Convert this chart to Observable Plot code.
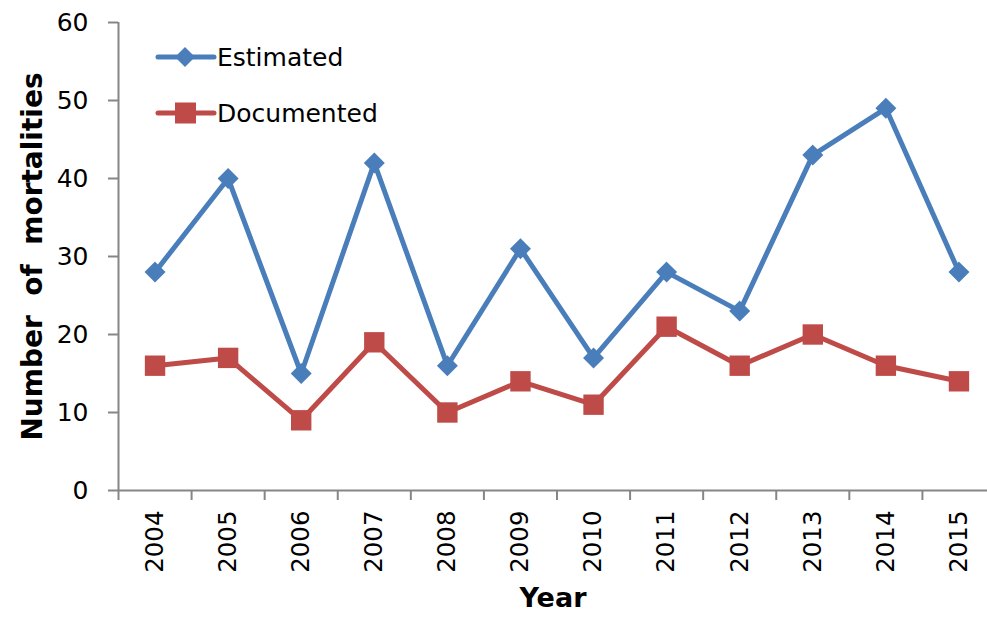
<!DOCTYPE html>
<html>
<head>
<meta charset="utf-8">
<script src="https://cdn.jsdelivr.net/npm/d3@7"></script>
<script src="https://cdn.jsdelivr.net/npm/@observablehq/plot@0.6"></script>
<style>
  html, body { margin: 0; padding: 0; background: #fff; overflow: hidden; }
  #wrap { position: relative; width: 987px; height: 621px; font-family: "DejaVu Sans", sans-serif; }
  #legend { position: absolute; left: 0; top: 0; pointer-events: none; }
</style>
</head>
<body>
<div id="wrap"></div>
<script>
const years = [2004, 2005, 2006, 2007, 2008, 2009, 2010, 2011, 2012, 2013, 2014, 2015];
const estimated = [28, 40, 15, 42, 16, 31, 17, 28, 23, 43, 49, 28];
const documented = [16, 17, 9, 19, 10, 14, 11, 21, 16, 20, 16, 14];
const yTicks = [0, 10, 20, 30, 40, 50, 60];
const seriesNames = ["Estimated", "Documented"];
const colors = {Estimated: "#4A7EBB", Documented: "#BE4B48"};

const estRows = years.map((y, i) => ({year: y, value: estimated[i]}));
const docRows = years.map((y, i) => ({year: y, value: documented[i]}));
const boundaries = d3.range(years.length + 1).map(i => years[0] - 0.5 + i);

const axisGray = "#868686";
const font = "DejaVu Sans, sans-serif";

const chart = Plot.plot({
  width: 987,
  height: 621,
  marginLeft: 118,
  marginRight: 0,
  marginTop: 22,
  marginBottom: 131,
  style: {fontFamily: font, background: "#fff", overflow: "visible"},
  x: {type: "linear", domain: [years[0] - 0.5, years[years.length - 1] + 0.5], range: [118, 995]},
  y: {domain: [0, 60]},
  marks: [
    Plot.axisY({ticks: yTicks, tickSize: 10, tickPadding: 20, fontSize: 25, fill: "#000", stroke: axisGray, strokeWidth: 2, label: null, tickFormat: d => String(d)}),
    Plot.ruleX([years[0] - 0.5], {stroke: axisGray, strokeWidth: 2}),
    Plot.ruleY([0], {stroke: axisGray, strokeWidth: 2}),
    Plot.axisX({ticks: boundaries, tickSize: 10, tickFormat: () => "", stroke: axisGray, strokeWidth: 2, label: null}),
    Plot.axisX({ticks: years, tickSize: 0, tickPadding: 20, tickRotate: -90, fontSize: 24.5, fill: "#000", tickFormat: d => String(d), label: null}),
    Plot.line(estRows, {x: "year", y: "value", stroke: colors.Estimated, strokeWidth: 5}),
    Plot.dot(estRows, {x: "year", y: "value", symbol: "diamond2", r: 8.5, fill: colors.Estimated, stroke: colors.Estimated, strokeWidth: 1.5}),
    Plot.line(docRows, {x: "year", y: "value", stroke: colors.Documented, strokeWidth: 5}),
    Plot.dot(docRows, {x: "year", y: "value", symbol: "square", r: 11.5, fill: colors.Documented, stroke: "none"}),
    Plot.text(["Year"], {frameAnchor: "bottom", dy: 116, fontSize: 27, fontWeight: "bold", fill: "#000"}),
    Plot.text(["Number  of  mortalities"], {frameAnchor: "left", textAnchor: "middle", dx: -85, rotate: -90, fontSize: 28, fontWeight: "bold", fill: "#000", style: "white-space: pre"})
  ]
});
document.getElementById("wrap").appendChild(chart);

// Legend (inside plot area, top-left)
const leg = d3.select("#wrap").append("svg")
  .attr("id", "legend").attr("width", 987).attr("height", 621);
seriesNames.forEach((name, i) => {
  const g = leg.append("g").attr("transform", `translate(0, ${57 + i * 56})`);
  g.append("line").attr("x1", 158).attr("x2", 214).attr("y1", 0).attr("y2", 0)
    .attr("stroke", colors[name]).attr("stroke-width", 5).attr("stroke-linecap", "round");
  if (name === "Estimated") {
    g.append("path").attr("d", "M185,-10L195,0L185,10L175,0Z").attr("fill", colors[name]);
  } else {
    g.append("rect").attr("x", 175).attr("y", -10.5).attr("width", 21).attr("height", 21).attr("fill", colors[name]);
  }
  g.append("text").attr("x", 217).attr("y", 0).attr("dy", "0.35em")
    .attr("font-family", font).attr("font-size", 25).attr("fill", "#000").text(name);
});
</script>
</body>
</html>
